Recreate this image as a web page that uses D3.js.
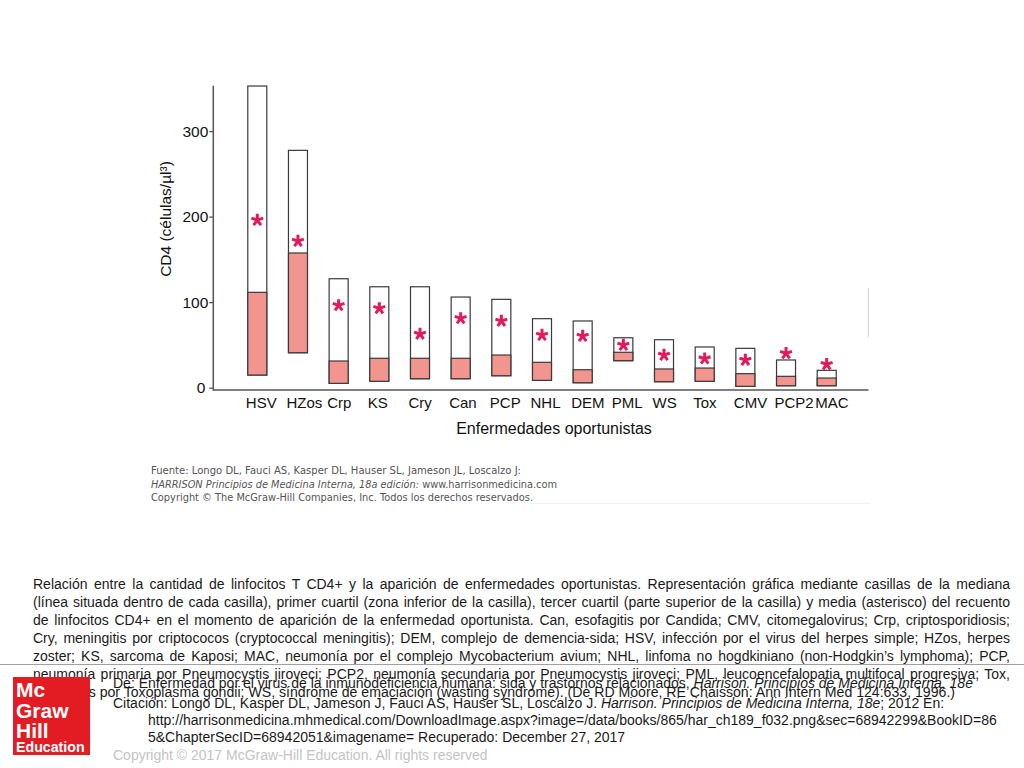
<!DOCTYPE html>
<html><head><meta charset="utf-8">
<script src="https://cdn.jsdelivr.net/npm/d3@7"></script>
<style>body{margin:0;background:#fff}svg{display:block}</style>
</head><body>
<svg id="c" width="1024" height="768"></svg>
<script>
const categories = ["HSV","HZos","Crp","KS","Cry","Can","PCP","NHL","DEM","PML","WS","Tox","CMV","PCP2","MAC"];
const q1Values     = [14.8, 40.9, 5.1, 7.5, 10.5, 10.5, 14.0, 8.6, 5.8, 31.6, 7.0, 7.5, 1.6, 2.3, 2.3];
const medianValues = [111.5, 157.5, 31.2, 34.4, 34.4, 34.4, 38.2, 29.7, 21.0, 41.4, 21.9, 23.0, 16.4, 13.3, 11.3];
const q3Values     = [352.7, 277.5, 127.4, 118.0, 118.0, 106.0, 103.3, 80.7, 78.0, 58.4, 56.1, 47.6, 46.0, 32.4, 20.3];
const meanValues   = [196.0, 171.5, 96.3, 92.8, 62.8, 81.1, 78.0, 61.6, 60.4, 49.9, 38.2, 33.9, 32.4, 40.2, 27.4];
const yTicks = [0, 100, 200, 300];
const yMax = 353;
const yTitle = "CD4 (células/µl³)";
const xTitle = "Enfermedades oportunistas";

const svg = d3.select("#c");
const FONT = "'Liberation Sans', Arial, Helvetica, sans-serif";

const x = d3.scalePoint().domain(categories).range([215, 869]).padding(1.04);
const y = d3.scaleLinear().domain([0, 300]).range([387.7, 131.1]);
const axisX0 = 213.3, axisX1 = 868.5, axisY = 390;
const bw = 19;

// axes lines
svg.append("line").attr("x1", axisX0).attr("x2", axisX0).attr("y1", y(yMax)).attr("y2", axisY + 0.7)
  .attr("stroke", "#555").attr("stroke-width", 1.5);
svg.append("line").attr("x1", axisX0).attr("x2", axisX1).attr("y1", axisY).attr("y2", axisY)
  .attr("stroke", "#555").attr("stroke-width", 1.5);
// scan artifact line at right edge
svg.append("line").attr("x1", 868.3).attr("x2", 868.3).attr("y1", 288).attr("y2", 337)
  .attr("stroke", "#d0d0d0").attr("stroke-width", 1);

const yAxis = svg.append("g").attr("transform", `translate(${axisX0},0)`)
  .call(d3.axisLeft(y).tickValues(yTicks).tickSize(4).tickPadding(1).tickSizeOuter(0));
yAxis.select(".domain").remove();
yAxis.selectAll(".tick line").attr("stroke", "#555").attr("stroke-width", 1.3);
yAxis.selectAll(".tick text").attr("font-family", FONT).attr("font-size", 15.5).attr("fill", "#111");
yAxis.selectAll(".tick").filter(d => d === 0).select("text").attr("dx", -3);

// x labels (left aligned with box left edge)
svg.append("g").selectAll("text").data(categories).join("text")
  .attr("x", d => x(d) - bw / 2 - 2).attr("y", 408)
  .attr("font-family", FONT).attr("font-size", 15).attr("fill", "#111")
  .text(d => d);

svg.append("text").attr("x", 554).attr("y", 434).attr("text-anchor", "middle")
  .attr("font-family", FONT).attr("font-size", 16).attr("fill", "#111").text(xTitle);
svg.append("text").attr("transform", "translate(171,219) rotate(-90)").attr("text-anchor", "middle")
  .attr("font-family", FONT).attr("font-size", 15.5).attr("fill", "#111").text(yTitle);

// boxes
const data = categories.map((c, i) => ({c, q1: q1Values[i], med: medianValues[i], q3: q3Values[i], mean: meanValues[i]}));
const g = svg.append("g");
g.selectAll("rect.outer").data(data).join("rect").attr("class", "outer")
  .attr("x", d => x(d.c) - bw / 2).attr("width", bw)
  .attr("y", d => y(d.q3)).attr("height", d => y(d.q1) - y(d.q3))
  .attr("fill", "#fff").attr("stroke", "#3a3a3a").attr("stroke-width", 1.2);
g.selectAll("rect.lower").data(data).join("rect").attr("class", "lower")
  .attr("x", d => x(d.c) - bw / 2).attr("width", bw)
  .attr("y", d => y(d.med)).attr("height", d => y(d.q1) - y(d.med))
  .attr("fill", "#f3958f").attr("stroke", "#3a3a3a").attr("stroke-width", 1.2);

// asterisks (mean)
const armLen = 6.2;
const starPath = d3.range(5).map(k => {
  const a = (-90 + 72 * k) * Math.PI / 180;
  return `M0,0L${(Math.cos(a) * armLen).toFixed(2)},${(Math.sin(a) * armLen).toFixed(2)}`;
}).join("");
g.selectAll("path.star").data(data).join("path").attr("class", "star")
  .attr("transform", d => `translate(${x(d.c)},${y(d.mean)})`)
  .attr("d", starPath).attr("stroke", "#e2195b").attr("stroke-width", 3).attr("fill", "none");

// source block inside figure
const src = svg.append("g").attr("font-family", "'DejaVu Sans', sans-serif").attr("font-size", 10).attr("fill", "#555");
src.append("text").attr("x", 151).attr("y", 474).attr("textLength", 370).attr("lengthAdjust", "spacingAndGlyphs")
  .text("Fuente: Longo DL, Fauci AS, Kasper DL, Hauser SL, Jameson JL, Loscalzo J:");
const t2 = src.append("text").attr("x", 151).attr("y", 487.5).attr("textLength", 406).attr("lengthAdjust", "spacingAndGlyphs");
t2.append("tspan").attr("font-style", "italic").text("HARRISON Principios de Medicina Interna, 18a edición:");
t2.append("tspan").text(" www.harrisonmedicina.com");
src.append("text").attr("x", 151).attr("y", 501).attr("textLength", 382).attr("lengthAdjust", "spacingAndGlyphs")
  .text("Copyright © The McGraw-Hill Companies, Inc. Todos los derechos reservados.");
svg.append("line").attr("x1", 530).attr("x2", 870).attr("y1", 503.5).attr("y2", 503.5).attr("stroke", "#f0f0f0");

// caption (justified)
const captionLines = [
  "Relación entre la cantidad de linfocitos T CD4+ y la aparición de enfermedades oportunistas. Representación gráfica mediante casillas de la mediana",
  "(línea situada dentro de cada casilla), primer cuartil (zona inferior de la casilla), tercer cuartil (parte superior de la casilla) y media (asterisco) del recuento",
  "de linfocitos CD4+ en el momento de aparición de la enfermedad oportunista. Can, esofagitis por Candida; CMV, citomegalovirus; Crp, criptosporidiosis;",
  "Cry, meningitis por criptococos (cryptococcal meningitis); DEM, complejo de demencia-sida; HSV, infección por el virus del herpes simple; HZos, herpes",
  "zoster; KS, sarcoma de Kaposi; MAC, neumonía por el complejo Mycobacterium avium; NHL, linfoma no hogdkiniano (non-Hodgkin’s lymphoma); PCP,",
  "neumonía primaria por Pneumocystis jiroveci; PCP2, neumonía secundaria por Pneumocystis jiroveci; PML, leucoencefalopatia multifocal progresiva; Tox,",
  "encefalitis por Toxoplasma gondii; WS, síndrome de emaciación (wasting syndrome). (De RD Moore, RE Chaisson: Ann Intern Med 124:633, 1996.)"
];
const capY = [589, 607, 625, 643, 661, 679, 697];
const cap = svg.append("g").attr("font-family", FONT).attr("font-size", 14).attr("fill", "#1a1a1a");
captionLines.forEach((line, i) => {
  const t = cap.append("text").attr("x", 33).attr("y", capY[i]).text(line);
  const target = i < captionLines.length - 1 ? 977 : 922;
  const w = t.node().getComputedTextLength();
  const spaces = (line.match(/ /g) || []).length;
  const ws = (target - w) / spaces;
  if (i < captionLines.length - 1 && ws > -1) t.attr("word-spacing", ws);
  else t.attr("textLength", target).attr("lengthAdjust", "spacingAndGlyphs");
});

// separator line
svg.append("line").attr("x1", 0).attr("x2", 1024).attr("y1", 664.5).attr("y2", 664.5).attr("stroke", "#a0a0a0").attr("stroke-width", 1);

// logo
svg.append("rect").attr("x", 13).attr("y", 677).attr("width", 77).attr("height", 78).attr("fill", "#e31b23");
const logo = svg.append("g").attr("font-family", FONT).attr("font-weight", "bold").attr("fill", "#fff");
logo.append("text").attr("x", 16).attr("y", 697).attr("font-size", 21).text("Mc");
logo.append("text").attr("x", 16).attr("y", 718).attr("font-size", 21).text("Graw");
logo.append("text").attr("x", 16).attr("y", 738).attr("font-size", 21).text("Hill");
logo.append("text").attr("x", 16).attr("y", 752).attr("font-size", 14.2).text("Education");

// citation block
const cit = svg.append("g").attr("font-family", FONT).attr("font-size", 14).attr("fill", "#1a1a1a");
const c1 = cit.append("text").attr("x", 113).attr("y", 688);
c1.append("tspan").text("De: Enfermedad por el virus de la inmunodeficiencia humana: sida y trastornos relacionados, ");
c1.append("tspan").attr("font-style", "italic").text("Harrison. Principios de Medicina Interna, 18e");
const c2 = cit.append("text").attr("x", 113).attr("y", 708);
c2.append("tspan").text("Citación: Longo DL, Kasper DL, Jameson J, Fauci AS, Hauser SL, Loscalzo J. ");
c2.append("tspan").attr("font-style", "italic").text("Harrison. Principios de Medicina Interna, 18e");
c2.append("tspan").text("; 2012 En:");
cit.append("text").attr("x", 148).attr("y", 725)
  .text("http://harrisonmedicina.mhmedical.com/DownloadImage.aspx?image=/data/books/865/har_ch189_f032.png&sec=68942299&BookID=86");
cit.append("text").attr("x", 148).attr("y", 742)
  .text("5&ChapterSecID=68942051&imagename= Recuperado: December 27, 2017");
cit.append("text").attr("x", 113).attr("y", 760).attr("fill", "#c4c4c4")
  .text("Copyright © 2017 McGraw-Hill Education. All rights reserved");
</script>
</body></html>
